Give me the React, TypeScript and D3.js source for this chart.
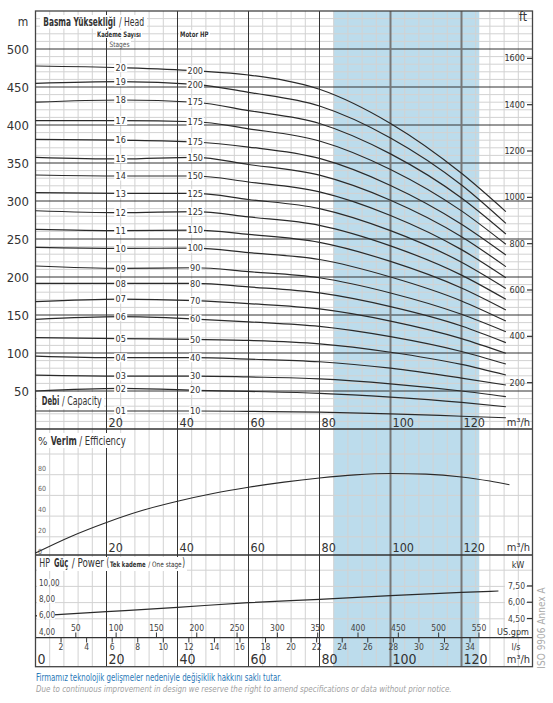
import React from "react";
import * as d3 from "d3";

// ---------- DATA ----------
const flowPoints = [0, 24, 45, 60, 80, 100, 120, 132.5];
const stageNames = ["01","02","03","04","05","06","07","08","09","10","11","12","13","14","15","16","17","18","19","20"];
const motorHp = [10, 20, 30, 40, 50, 60, 70, 80, 90, 100, 110, 125, 125, 150, 150, 175, 175, 175, 200, 200];
const stageHeads = [
  [23.7, 23.7, 23.7, 23.2, 22.2, 20.0, 16.8, 14.8],
  [50.0, 53.5, 51.0, 49.5, 47.0, 42.0, 35.0, 29.3],
  [71.0, 69.7, 69.7, 68.5, 66.0, 59.5, 50.0, 42.5],
  [96.0, 93.8, 93.8, 92.0, 88.5, 80.0, 67.0, 57.9],
  [120.2, 118.8, 118.0, 116.5, 112.0, 101.0, 85.0, 71.0],
  [144.3, 147.8, 144.7, 141.0, 135.0, 121.5, 102.0, 85.5],
  [167.5, 171.0, 168.8, 165.0, 158.0, 142.0, 119.0, 99.6],
  [191.7, 191.7, 191.7, 187.0, 179.0, 161.0, 135.5, 113.6],
  [214.5, 211.4, 212.2, 207.0, 199.0, 179.0, 151.0, 128.0],
  [239.0, 237.7, 238.0, 232.0, 223.0, 200.0, 168.5, 142.0],
  [262.7, 261.0, 261.8, 256.0, 245.5, 220.5, 185.5, 156.6],
  [287.2, 284.6, 286.0, 279.0, 268.0, 241.0, 202.5, 170.7],
  [311.0, 310.0, 310.0, 302.0, 290.0, 261.0, 219.5, 185.0],
  [334.2, 332.9, 332.9, 325.0, 312.0, 281.0, 236.0, 199.0],
  [357.5, 355.3, 357.5, 348.0, 334.0, 301.0, 253.0, 213.6],
  [381.0, 380.0, 377.6, 371.0, 356.0, 320.5, 269.5, 229.0],
  [405.7, 405.7, 404.3, 395.0, 379.0, 341.5, 287.0, 243.0],
  [430.0, 432.9, 429.9, 419.0, 402.0, 362.0, 304.0, 256.6],
  [454.8, 457.0, 453.5, 443.0, 425.0, 383.0, 321.0, 270.6],
  [477.6, 475.4, 471.4, 465.8, 447.0, 402.0, 336.4, 286.0],
];
const headTicks = [50, 100, 150, 200, 250, 300, 350, 400, 450, 500];
const ftTicks = [200, 400, 600, 800, 1000, 1200, 1400, 1600];
const flowTicks = [20, 40, 60, 80, 100, 120];
const bottomFlowTicks = [0, 20, 40, 60, 80, 100, 120];
const effFlow = [0, 10, 20, 30, 40, 50, 60, 70, 80, 90, 100, 110, 120, 128, 133.5];
const effValues = [0, 16, 29.5, 41, 50, 57.5, 63.5, 68.5, 72.5, 75.5, 76.8, 76.2, 73.5, 69.5, 66];
const effTicks = [0, 20, 40, 60, 80];
const powerFlow = [0, 20, 40, 60, 80, 100, 120, 130.4];
const powerHp = [6.35, 6.88, 7.42, 7.99, 8.4, 8.85, 9.27, 9.43];
const hpTicks = [4, 6, 8, 10];
const kwTicks = [4.5, 6, 7.5];
const gpmTicks = [50, 100, 150, 200, 250, 300, 350, 400, 450, 500, 550];
const lsTicks = [2, 4, 6, 8, 10, 12, 14, 16, 18, 20, 22, 24, 26, 28, 30, 32, 34];
const bandRange = [84, 125];

const FONT = "'Liberation Sans Narrow','Arial Narrow','DejaVu Sans Condensed','Liberation Sans',sans-serif";

let measureCtx: CanvasRenderingContext2D | null = null;
function measure(t: string, size: number, bold: boolean, italic: boolean) {
  if (!measureCtx) {
    const c = document.createElement("canvas");
    measureCtx = c.getContext("2d");
  }
  if (!measureCtx) return t.length * size * 0.5;
  measureCtx.font = `${italic ? "italic " : ""}${bold ? "bold " : ""}${size}px ${FONT}`;
  return measureCtx.measureText(t).width || t.length * size * 0.5;
}

type FitProps = {
  t: string;
  x: number;
  y: number;
  w: number;
  size: number;
  bold?: boolean;
  italic?: boolean;
  fill?: string;
};
function FitText({ t, x, y, w, size, bold = false, italic = false, fill = "#333" }: FitProps) {
  const nat = measure(t, size, bold, italic);
  const s = w / nat;
  return (
    <text
      transform={`translate(${x},${y}) scale(${s.toFixed(4)},1)`}
      fontSize={size}
      fontWeight={bold ? "bold" : "normal"}
      fontStyle={italic ? "italic" : "normal"}
      fill={fill}
    >
      {t}
    </text>
  );
}

export default function App() {
  const LEFT = 35.5, RIGHT = 532.5, TOP = 11;
  const HEAD_BOTTOM = 429, EFF_BOTTOM = 555, POW_BOTTOM = 637.7, BOTTOM = 666.7;

  const x = d3.scaleLinear().domain([0, 140]).range([LEFT, RIGHT]);
  const yH = d3.scaleLinear().domain([0, 550]).range([HEAD_BOTTOM, TOP]);
  const yE = d3.scaleLinear().domain([0, 100]).range([553, 449.5]);
  const yP = d3.scaleLinear().domain([4, 12]).range([635, 570.2]);

  const minorV = d3.range(4, 140, 4).filter((v) => v % 20 !== 0);
  const minorHead = d3.range(10, 550, 10).filter((v) => v % 50 !== 0);
  const majorHead = d3.range(50, 550, 50);
  const effGrid = [20, 40, 60, 80, 100];
  const powGrid = [6, 8, 10, 12];

  const headLine = d3
    .line<[number, number]>()
    .x((d) => x(d[0]))
    .y((d) => yH(d[1]))
    .curve(d3.curveMonotoneX);
  const effLine = d3
    .line<[number, number]>()
    .x((d) => x(d[0]))
    .y((d) => yE(d[1]))
    .curve(d3.curveMonotoneX);
  const powLine = d3
    .line<[number, number]>()
    .x((d) => x(d[0]))
    .y((d) => yP(d[1]))
    .curve(d3.curveMonotoneX);

  const gridC = "#d2d2d2";
  const darkC = "#333";
  const txt = "#333";

  const majorStyle = (v: number) =>
    v >= 100 ? { stroke: "#777", width: 2 } : { stroke: darkC, width: 1 };

  return (
    <div style={{ position: "absolute", left: 0, top: 0 }}>
      <svg width={553} height={703} style={{ display: "block", fontFamily: FONT }}>
        <rect x={0} y={0} width={553} height={703} fill="#fff" />
        {/* blue band */}
        <rect
          x={x(bandRange[0])}
          y={TOP}
          width={x(bandRange[1]) - x(bandRange[0])}
          height={BOTTOM - TOP}
          fill="#bcdcec"
        />
        {/* minor vertical grid */}
        {minorV.map((v) => (
          <line key={"mv" + v} x1={x(v)} x2={x(v)} y1={TOP} y2={BOTTOM} stroke={gridC} strokeWidth={1} />
        ))}
        {/* head minor horizontal */}
        {minorHead.map((v) => (
          <line key={"mh" + v} x1={LEFT} x2={RIGHT} y1={yH(v)} y2={yH(v)} stroke={gridC} strokeWidth={1} />
        ))}
        {/* efficiency grid */}
        {effGrid.map((v) => (
          <line key={"eg" + v} x1={LEFT} x2={RIGHT} y1={yE(v) + 4.5} y2={yE(v) + 4.5} stroke={gridC} strokeWidth={1} />
        ))}
        {/* power grid */}
        {powGrid.map((v) => (
          <line key={"pg" + v} x1={LEFT} x2={RIGHT} y1={yP(v)} y2={yP(v)} stroke={gridC} strokeWidth={1} />
        ))}
        {/* head major horizontal */}
        {majorHead.map((v) => (
          <line key={"Mh" + v} x1={LEFT} x2={RIGHT} y1={yH(v)} y2={yH(v)} stroke={darkC} strokeWidth={1} />
        ))}
        {/* major vertical */}
        {flowTicks.map((v) => (
          <line
            key={"Mv" + v}
            x1={x(v)}
            x2={x(v)}
            y1={TOP}
            y2={BOTTOM}
            stroke={majorStyle(v).stroke}
            strokeWidth={majorStyle(v).width}
          />
        ))}
        {/* panel separators and frame */}
        {[HEAD_BOTTOM, EFF_BOTTOM, POW_BOTTOM].map((yy) => (
          <line key={"sep" + yy} x1={LEFT} x2={RIGHT} y1={yy} y2={yy} stroke={darkC} strokeWidth={1.3} />
        ))}
        <rect x={LEFT} y={TOP} width={RIGHT - LEFT} height={BOTTOM - TOP} fill="none" stroke="#444" strokeWidth={1.3} />

        {/* header texts */}
        <text x={23} y={26} fontSize={12} fill={txt} textAnchor="middle">m</text>
        <rect x={40} y={15} width={107} height={13.5} fill="#fff" />
        <FitText t="Basma Yüksekliği" x={43.3} y={26.2} w={72.4} size={12} bold />
        <FitText t="/ Head" x={119} y={26.2} w={25.3} size={12} />
        <rect x={96} y={30} width={46} height={8} fill="#fff" />
        <FitText t="Kademe Sayısı" x={97} y={37} w={44} size={7.5} bold />
        <rect x={108} y={39.5} width={23} height={8} fill="#fff" />
        <FitText t="Stages" x={109.5} y={46.5} w={20} size={7.5} fill="#555" />
        <rect x={179} y={30} width={31} height={8} fill="#fff" />
        <FitText t="Motor HP" x={180} y={37} w={28.5} size={7.5} bold />
        <text x={523} y={21} fontSize={12} fill={txt} textAnchor="middle">ft</text>

        {/* head y axis labels */}
        {headTicks.map((v) => (
          <text key={"ht" + v} x={29} y={yH(v) + 5} fontSize={13} fill={txt} textAnchor="end">{v}</text>
        ))}
        {/* ft axis */}
        {ftTicks.map((v) => (
          <g key={"ft" + v}>
            <line x1={527} x2={RIGHT} y1={yH(v * 0.3048)} y2={yH(v * 0.3048)} stroke={darkC} strokeWidth={1.2} />
            <text x={525} y={yH(v * 0.3048) + 3} fontSize={9} fill={txt} textAnchor="end">{v}</text>
          </g>
        ))}

        {/* Debi / Capacity */}
        <rect x={37} y={392} width={67} height={17} fill="#fff" />
        <FitText t="Debi" x={41.7} y={405} w={17.6} size={12} bold />
        <FitText t="/ Capacity" x={62} y={405} w={39.7} size={12} />

        {/* head curves */}
        {stageHeads.map((heads, i) => {
          const pts: [number, number][] = flowPoints.map((q, j) => [q, heads[j]]);
          return (
            <path key={"c" + i} d={headLine(pts) || ""} fill="none" stroke="#2a2a2a" strokeWidth={1.2} />
          );
        })}
        {/* curve labels */}
        {stageHeads.map((heads, i) => {
          const sx = x(flowPoints[1]);
          const sy = yH(heads[1]);
          const hx = x(flowPoints[2]);
          const hy = yH(heads[2]);
          const hpText = String(motorHp[i]);
          const hw = hpText.length * 4.8 + 3;
          return (
            <g key={"l" + i}>
              <rect x={sx - 6.5} y={sy - 4.5} width={13} height={9} fill="#fff" />
              <text x={sx} y={sy + 3.2} fontSize={9} fill={txt} textAnchor="middle">{stageNames[i]}</text>
              <rect x={hx - hw / 2} y={hy - 4.5} width={hw} height={9} fill="#fff" />
              <text x={hx} y={hy + 3.2} fontSize={9} fill={txt} textAnchor="middle">{hpText}</text>
            </g>
          );
        })}

        {/* head panel flow labels */}
        {flowTicks.map((v) => (
          <text key={"hf" + v} x={x(v) + 2} y={HEAD_BOTTOM - 2} fontSize={12.5} fill={txt}>{v}</text>
        ))}
        <text x={530} y={HEAD_BOTTOM - 3} fontSize={11} fill={txt} textAnchor="end">m³/h</text>

        {/* efficiency panel */}
        <rect x={37} y={433} width={92} height={15} fill="#fff" />
        <text x={38} y={445} fontSize={11} fill={txt}>%</text>
        <FitText t="Verim" x={50.7} y={445} w={26} size={11.5} bold />
        <FitText t="/ Efficiency" x={79.3} y={445} w={46.4} size={11.5} />
        {effTicks.map((v) => (
          <text key={"et" + v} x={38} y={yE(v) + 0.5} fontSize={7} fill="#666">{v}</text>
        ))}
        <path
          d={effLine(effFlow.map((q, j) => [q, effValues[j]] as [number, number])) || ""}
          fill="none"
          stroke="#2a2a2a"
          strokeWidth={1.1}
        />
        {flowTicks.map((v) => (
          <text key={"ef" + v} x={x(v) + 2} y={EFF_BOTTOM - 3} fontSize={12.5} fill={txt}>{v}</text>
        ))}
        <text x={530} y={EFF_BOTTOM - 4} fontSize={11} fill={txt} textAnchor="end">m³/h</text>

        {/* power panel */}
        <rect x={37} y={557} width={150} height={14} fill="#fff" />
        <FitText t="HP" x={39.3} y={566.5} w={10.7} size={12} />
        <FitText t="Güç" x={54} y={566.5} w={14.3} size={12} bold />
        <FitText t="/ Power" x={71.7} y={566.5} w={32.3} size={12} />
        <FitText t="(" x={106.5} y={566.5} w={2.6} size={12.5} />
        <FitText t="Tek kademe" x={110} y={566.5} w={35.7} size={7.5} bold />
        <FitText t="/ One stage" x={148.3} y={566.5} w={33.4} size={7.5} />
        <FitText t=")" x={182.3} y={566.5} w={2.8} size={12.5} />
        <path
          d={powLine(powerFlow.map((q, j) => [q, powerHp[j]] as [number, number])) || ""}
          fill="none"
          stroke="#2a2a2a"
          strokeWidth={1.2}
        />
        {hpTicks.map((v) => (
          <g key={"hp" + v}>
            <rect x={37} y={yP(v) - 7.5} width={18} height={8} fill="#fff" />
            <text x={39} y={yP(v) - 0.5} fontSize={8} fill="#444">{v.toFixed(2).replace(".", ",")}</text>
          </g>
        ))}
        <text x={518} y={568} fontSize={9} fill={txt} textAnchor="middle">kW</text>
        {kwTicks.map((v) => (
          <g key={"kw" + v}>
            <line x1={527} x2={RIGHT} y1={yP(v / 0.7457)} y2={yP(v / 0.7457)} stroke={darkC} strokeWidth={1.2} />
            <rect x={505} y={yP(v / 0.7457) - 5} width={21} height={9} fill="#fff" />
            <text x={525} y={yP(v / 0.7457) + 3} fontSize={8.5} fill="#444" textAnchor="end">
              {v.toFixed(2).replace(".", ",")}
            </text>
          </g>
        ))}
        {/* gpm ticks */}
        {gpmTicks.map((v) => {
          const xx = x(v / 4.4029);
          return (
            <g key={"gpm" + v}>
              <line x1={xx} x2={xx} y1={632.5} y2={POW_BOTTOM} stroke={darkC} strokeWidth={1} />
              <text x={xx} y={631} fontSize={8.5} fill="#444" textAnchor="middle">{v}</text>
            </g>
          );
        })}
        <text x={513} y={635} fontSize={9} fill={txt} textAnchor="middle">US.gpm</text>
        {/* l/s ticks */}
        {lsTicks.map((v) => {
          const xx = x(v * 3.6);
          return (
            <g key={"ls" + v}>
              <line x1={xx} x2={xx} y1={POW_BOTTOM} y2={642.5} stroke={darkC} strokeWidth={1} />
              <text x={xx} y={649.5} fontSize={8.5} fill="#444" textAnchor="middle">{v}</text>
            </g>
          );
        })}
        <text x={516} y={649.5} fontSize={9} fill={txt} textAnchor="middle">l/s</text>
        {/* bottom m3/h */}
        {bottomFlowTicks.map((v) => (
          <text key={"bf" + v} x={x(v) + 2} y={664} fontSize={14} fill={txt}>{v}</text>
        ))}
        <text x={530} y={663} fontSize={11} fill={txt} textAnchor="end">m³/h</text>

        {/* ISO note */}
        <text
          x={0}
          y={0}
          transform="translate(545,628) rotate(-90)"
          fontSize={10}
          fill="#aaa"
          textAnchor="middle"
        >
          ISO 9906 Annex A
        </text>

        {/* footer */}
        <FitText
          t="Firmamız teknolojik gelişmeler nedeniyle değişiklik hakkını saklı tutar."
          x={36}
          y={681}
          w={246}
          size={10}
          fill="#2a78b8"
        />
        <FitText
          t="Due to continuous improvement in design we reserve the right to amend specifications or data without prior notice."
          x={36}
          y={692}
          w={416}
          size={9.5}
          italic
          fill="#a0a0a0"
        />
      </svg>
    </div>
  );
}
